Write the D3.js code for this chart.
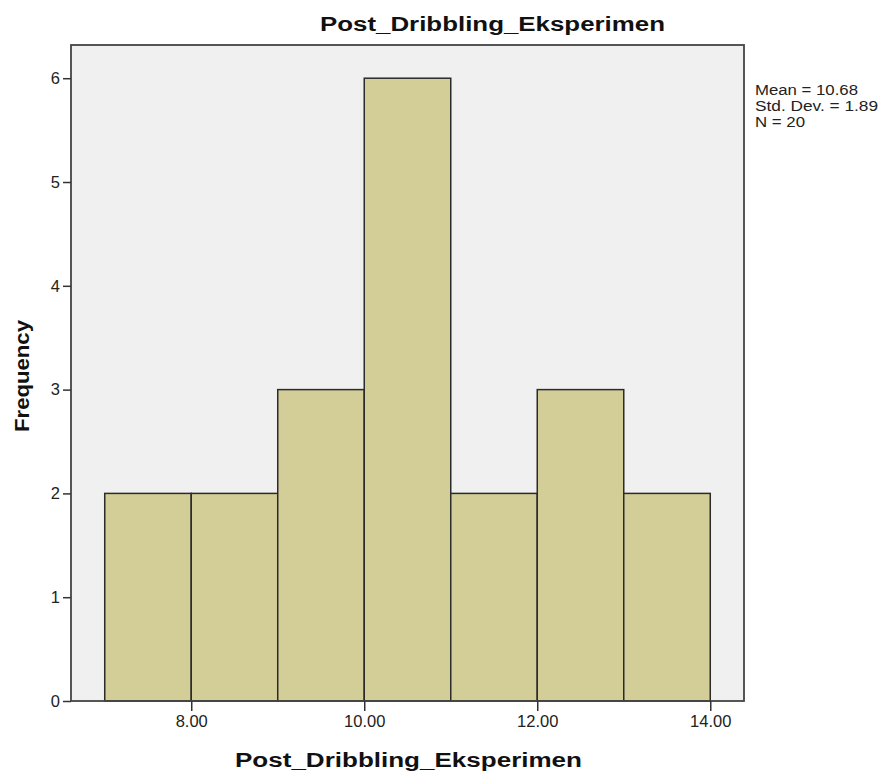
<!DOCTYPE html>
<html><head><meta charset="utf-8">
<script src="https://cdn.jsdelivr.net/npm/d3@7"></script>
<style>body{margin:0;background:#fff}svg{display:block}</style>
</head><body>
<script>
const binStarts = [7, 8, 9, 10, 11, 12, 13];
const binWidth = 1;
const frequencies = [2, 2, 3, 6, 2, 3, 2];
const xTicks = [8, 10, 12, 14];
const yTicks = [0, 1, 2, 3, 4, 5, 6];
const statsLines = ["Mean = 10.68", "Std. Dev. = 1.89", "N = 20"];
const title = "Post_Dribbling_Eksperimen";
const xTitle = "Post_Dribbling_Eksperimen";
const yTitle = "Frequency";

const W = 883, H = 780;
const L = 71, R = 744, T = 45, B = 701;
const FONT = "Arial, 'Liberation Sans', sans-serif";
const svg = d3.select("body").append("svg").attr("width", W).attr("height", H)
  .style("font-family", FONT);

const x = d3.scaleLinear().domain([6.61, 14.39]).range([L, R]);
const y = d3.scaleLinear().domain([0, 6.32]).range([B, T]);

svg.append("rect").attr("x", L).attr("y", T).attr("width", R - L).attr("height", B - T)
  .attr("fill", "#f0f0f0");

svg.selectAll("rect.bar").data(binStarts).enter().append("rect")
  .attr("class", "bar")
  .attr("x", d => x(d))
  .attr("width", d => x(d + binWidth) - x(d))
  .attr("y", (d, i) => y(frequencies[i]))
  .attr("height", (d, i) => y(0) - y(frequencies[i]))
  .attr("fill", "#d3ce97")
  .attr("stroke", "#2b2b2b").attr("stroke-width", 1.5);

svg.append("rect").attr("x", L).attr("y", T).attr("width", R - L).attr("height", B - T)
  .attr("fill", "none").attr("stroke", "#444").attr("stroke-width", 1.8);

const xAxis = svg.append("g").attr("transform", `translate(0,${B})`)
  .call(d3.axisBottom(x).tickValues(xTicks).tickFormat(d3.format(".2f")).tickSize(10).tickPadding(4));
xAxis.attr("font-size", null).attr("font-family", null);
xAxis.select(".domain").remove();
xAxis.selectAll("line").attr("stroke", "#333").attr("stroke-width", 1.5);
xAxis.selectAll("text").style("font-size", "16.5px").attr("fill", "#222").style("font-family", FONT);

const yAxis = svg.append("g").attr("transform", `translate(${L},0)`)
  .call(d3.axisLeft(y).tickValues(yTicks).tickFormat(d3.format("d")).tickSize(8).tickPadding(3));
yAxis.attr("font-size", null).attr("font-family", null);
yAxis.select(".domain").remove();
yAxis.selectAll("line").attr("stroke", "#333").attr("stroke-width", 1.5);
yAxis.selectAll("text").style("font-size", "16.5px").attr("fill", "#222").style("font-family", FONT);

svg.append("text").attr("x", 320).attr("y", 31)
  .attr("font-size", 20).attr("font-weight", "bold").attr("fill", "#111")
  .attr("textLength", 345).attr("lengthAdjust", "spacingAndGlyphs").text(title);

svg.append("text").attr("x", 235).attr("y", 767)
  .attr("font-size", 20).attr("font-weight", "bold").attr("fill", "#111")
  .attr("textLength", 347).attr("lengthAdjust", "spacingAndGlyphs").text(xTitle);

svg.append("text").attr("transform", "translate(29,432) rotate(-90)")
  .attr("font-size", 20).attr("font-weight", "bold").attr("fill", "#111")
  .attr("textLength", 112).attr("lengthAdjust", "spacingAndGlyphs").text(yTitle);

const statWidths = [103, 123, 50];
svg.selectAll("text.stat").data(statsLines).enter().append("text")
  .attr("class", "stat").attr("x", 755).attr("y", (d, i) => 95 + i * 16)
  .attr("font-size", 14).attr("fill", "#222")
  .attr("textLength", (d, i) => statWidths[i]).attr("lengthAdjust", "spacingAndGlyphs")
  .text(d => d);
</script>
</body></html>
